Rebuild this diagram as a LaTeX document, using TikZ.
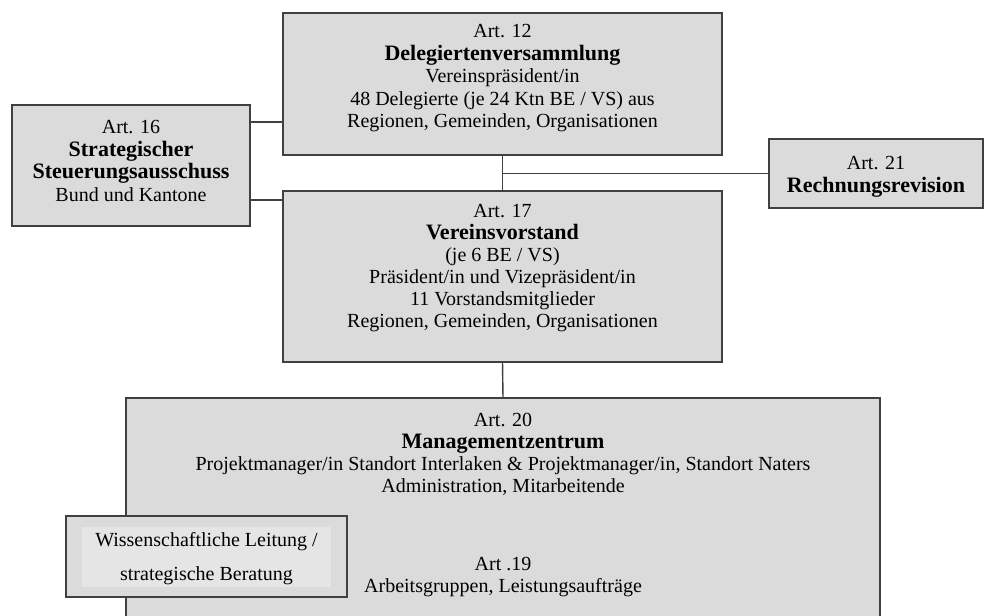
\documentclass[tikz,border=0pt]{standalone}
\usepackage{fontspec}
\setmainfont{Liberation Serif}
\usetikzlibrary{calc}
\newcommand\headline[1]{{\fontsize{22}{22}\selectfont\bfseries #1}}
\begin{document}
\begin{tikzpicture}[x=1pt,y=-1pt,
  box/.style={draw=black!75, line width=1.4pt, fill=black!14, inner sep=0pt, outer sep=0pt, anchor=north west},
  boxtext/.style={anchor=north, align=center, inner sep=0pt},
  conn/.style={draw=black!75, line width=1.4pt}]

\useasboundingbox (0,0) rectangle (984,615);

% connector heights
\coordinate (yA) at (0,122);
\coordinate (yB) at (0,200);

% boxes
\node[box, minimum width=439pt, minimum height=142pt] (deleg) at (283,13) {};
\node[box, minimum width=238pt, minimum height=121pt] (strat) at (12,105) {};
\node[box, minimum width=214pt, minimum height=69pt] (rech) at (769,139) {};
\node[box, minimum width=439pt, minimum height=171pt] (vorst) at (283,191) {};

% management centre, open towards the bottom
\node[fill=black!14, inner sep=0pt, outer sep=0pt, anchor=north west,
      minimum width=754pt, minimum height=240pt] (mgmt) at (126,398) {};
\draw[conn] (mgmt.south west) -- (mgmt.north west) -- (mgmt.north east) -- (mgmt.south east);

% scientific lead box
\node[box, minimum width=281pt, minimum height=81pt] (wiss) at (66,516) {};
\node[fill=black!10, inner sep=0pt, outer sep=0pt, anchor=north west,
      minimum width=249pt, minimum height=60pt] (wissin) at (82,527) {};

% connectors
\draw[conn] (strat.east |- yA) -- (deleg.west |- yA);
\draw[conn] (strat.east |- yB) -- (vorst.west |- yB);
\draw[conn] (deleg.south) -- (vorst.north);
\draw[conn] (deleg.south |- rech.west) -- (rech.west);
\draw[conn] (vorst.south) -- (mgmt.north);

% texts
\node[boxtext, font=\fontsize{20}{22.5}\selectfont] (delegtxt) at (502.5,24.4)
  {Art. 12\\\headline{Delegiertenversammlung}\\Vereinspräsident/in\\48 Delegierte (je 24 Ktn BE / VS) aus\\Regionen, Gemeinden, Organisationen};
\node[boxtext, font=\fontsize{20}{22.5}\selectfont] (strattxt) at (131,120.4)
  {Art. 16\\\headline{Strategischer}\\\headline{Steuerungsausschuss}\\Bund und Kantone};
\node[boxtext, font=\fontsize{20}{22.5}\selectfont] (rechtxt) at (876,156.4)
  {Art. 21\\\headline{Rechnungsrevision}};
\node[boxtext, font=\fontsize{20}{22}\selectfont] (vorsttxt) at (502.5,204.4)
  {Art. 17\\\headline{Vereinsvorstand}\\(je 6 BE / VS)\\Präsident/in und Vizepräsident/in\\11 Vorstandsmitglieder\\Regionen, Gemeinden, Organisationen};
\node[boxtext, font=\fontsize{20}{22}\selectfont] (mgmttxt) at (503,413.4)
  {Art. 20\\\headline{Managementzentrum}\\Projektmanager/in Standort Interlaken \& Projektmanager/in, Standort Naters\\Administration, Mitarbeitende};
\node[boxtext, font=\fontsize{20}{22}\selectfont] (agtxt) at (503,557.4)
  {Art .19\\Arbeitsgruppen, Leistungsaufträge};
\node[boxtext, font=\fontsize{20}{34}\selectfont] (wisstxt) at (206.5,532.4)
  {Wissenschaftliche Leitung /\\strategische Beratung};
\end{tikzpicture}
\end{document}
